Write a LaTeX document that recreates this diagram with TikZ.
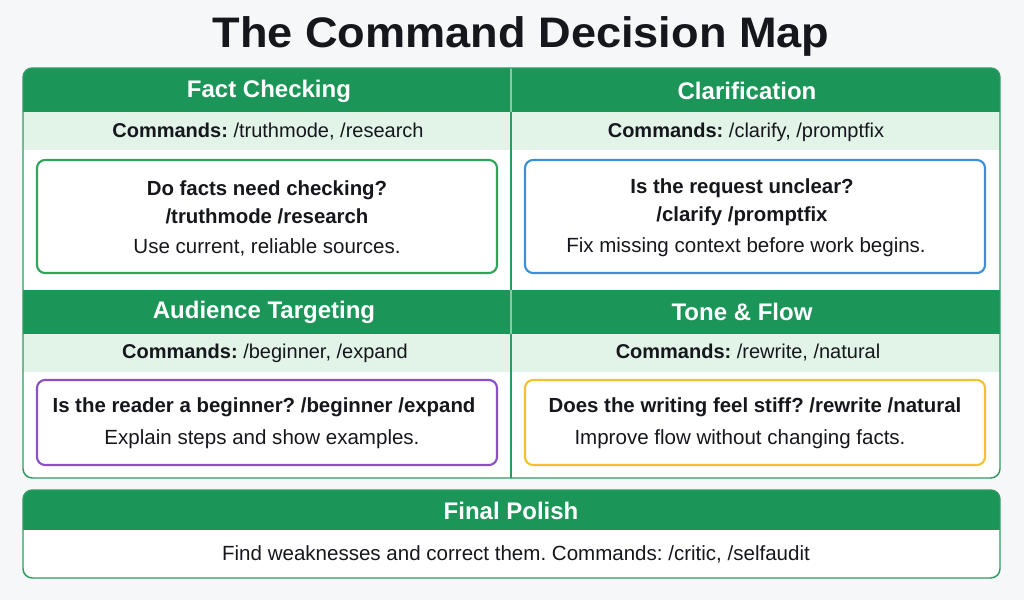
\documentclass[tikz,border=0pt]{standalone}
\usepackage{fontspec}
\setmainfont{Liberation Sans}
\usetikzlibrary{positioning}
\frenchspacing
\definecolor{pagebg}{HTML}{F6F7F9}
\definecolor{hdr}{HTML}{1C9558}
\definecolor{band}{HTML}{E2F3E8}
\definecolor{frm}{HTML}{2E9A62}
\definecolor{qgreen}{HTML}{2FA55C}
\definecolor{qblue}{HTML}{3A8FD8}
\definecolor{qpurple}{HTML}{8A50C8}
\definecolor{qyellow}{HTML}{F3C22E}
\definecolor{ink}{HTML}{15171C}
\tikzset{
  ttl/.style = {text=ink, font=\bfseries\fontsize{30.5}{36}\selectfont},
  hd/.style = {text=white, font=\bfseries\fontsize{18}{21}\selectfont},
  cmd/.style = {text=ink, font=\fontsize{15}{18}\selectfont},
  qq/.style = {text=ink, font=\bfseries\fontsize{15.3}{19}\selectfont, align=center},
  desc/.style = {text=ink, font=\fontsize{15.4}{18}\selectfont},
  frame/.style = {draw=frm, line width=1.1pt},
  qbox/.style = {line width=1.6pt, rounded corners=6, fill=white}
}

\begin{document}
\begin{tikzpicture}[x=0.75pt, y=-0.75pt]
  \fill [pagebg] (0,0) rectangle (1024,600);
  \node [ttl] (title) at (521,36) {\scalebox{1.11}[1.05]{The Command Decision Map}};
  % four cells
  \begin{scope}
    \clip [rounded corners=7] (23,68) rectangle (1000,478);
    \fill [white] (23,68) rectangle (1000,478);
    \foreach \y in {68,290} {
      \fill [hdr] (23,\y) rectangle (1000,\y+44);
      \fill [band] (23,\y+44) rectangle (1000,\y+82);
    }
  \end{scope}
  \draw [frame] (511,68) -- (511,478);
  \foreach \y in {68,290} \draw [white, opacity=0.45, line width=0.8pt] (511,\y) -- (511,\y+44);
  \draw [frame, rounded corners=7] (23,68) rectangle (1000,478);
  \draw [qbox, draw=qgreen] (37,160) rectangle (497,273);
  \draw [qbox, draw=qblue] (525,160) rectangle (985,273);
  \draw [qbox, draw=qpurple] (37,380) rectangle (497,465);
  \draw [qbox, draw=qyellow] (525,380) rectangle (985,465);
  % top row
  \node [hd] (h1) at (269,91) {Fact Checking};
  \node [hd] (h2) at (747,91) {Clarification};
  \node [cmd] (c1) at (268,132) {\textbf{Commands:} /truthmode, /research};
  \node [cmd] (c2) at (746,132) {\textbf{Commands:} /clarify, /promptfix};
  \node [qq] (q1) at (267,202) {Do facts need checking?\\[2pt]/truthmode /research};
  \node [qq] (q2) at (742,202) {Is the request unclear?\\[2pt]/clarify /promptfix};
  \node [desc] (d1) at (267,247) {Use current, reliable sources.};
  \node [desc] (d2) at (746,247) {Fix missing context before work begins.};
  % bottom row
  \node [hd] (h3) at (264,312) {Audience Targeting};
  \node [hd] (h4) at (742,312) {Tone \& Flow};
  \node [cmd] (c3) at (265,353) {\textbf{Commands:} /beginner, /expand};
  \node [cmd] (c4) at (748,353) {\textbf{Commands:} /rewrite, /natural};
  \node [qq] (q3) at (264,407) {Is the reader a beginner? /beginner /expand};
  \node [qq] (q4) at (755,407) {Does the writing feel stiff? /rewrite /natural};
  \node [desc] (d3) at (262,439) {Explain steps and show examples.};
  \node [desc] (d4) at (740,439) {Improve flow without changing facts.};
  % final polish
  \begin{scope}
    \clip [rounded corners=7] (23,490) rectangle (1000,578);
    \fill [white] (23,490) rectangle (1000,578);
    \fill [hdr] (23,490) rectangle (1000,530);
  \end{scope}
  \draw [frame, rounded corners=7] (23,490) rectangle (1000,578);
  \node [hd] (h5) at (511,511) {Final Polish};
  \node [desc] (fp) at (516,554) {Find weaknesses and correct them. Commands: /critic, /selfaudit};
\end{tikzpicture}
\end{document}
